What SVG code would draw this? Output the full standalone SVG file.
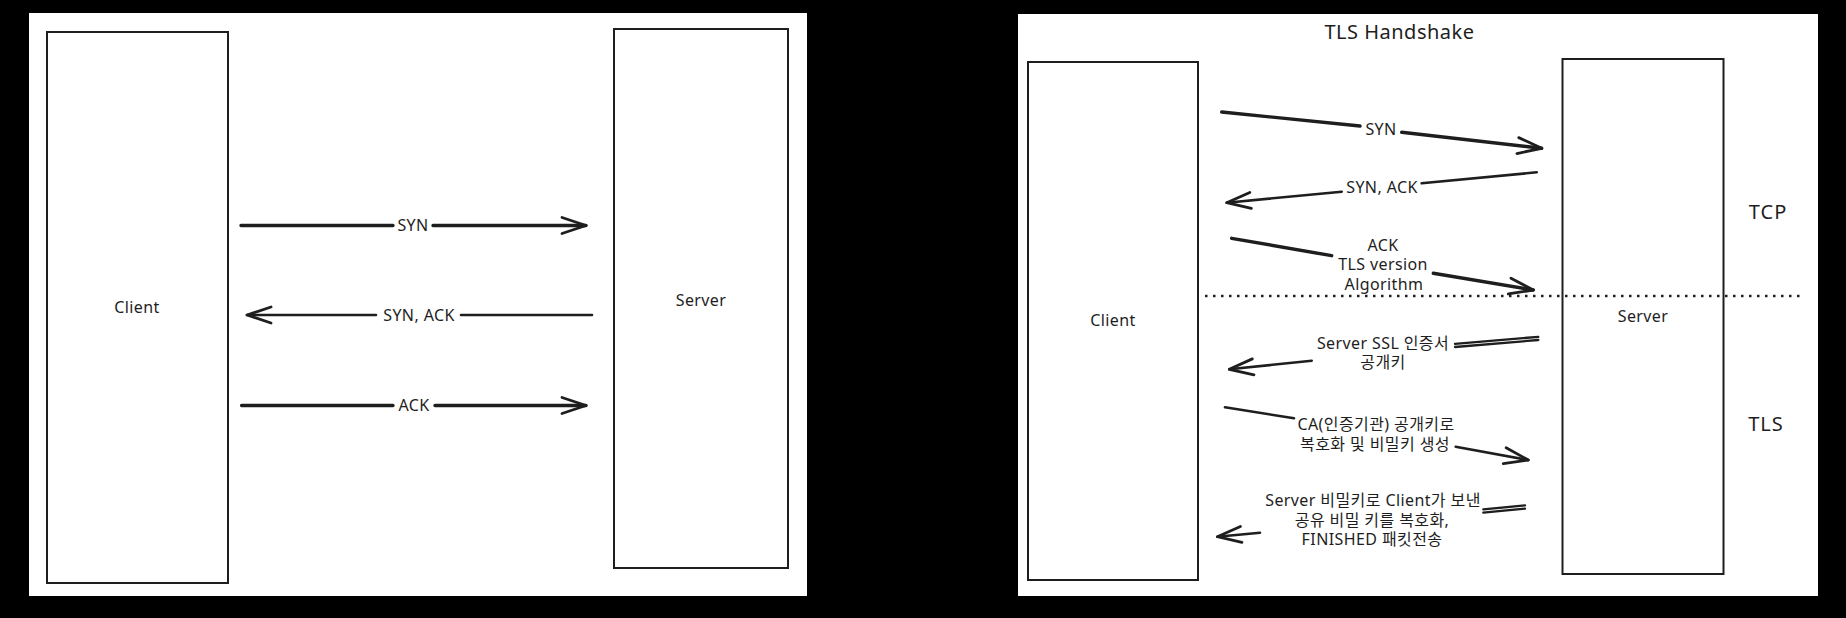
<svg xmlns="http://www.w3.org/2000/svg" width="1846" height="618" viewBox="0 0 1846 618">
<style>
.box{fill:none;stroke:#1e1e1e;stroke-width:2}
.edge{fill:none;stroke:#1e1e1e;stroke-width:2.6;stroke-linecap:round;stroke-linejoin:round}
.thick{stroke-width:3.4}
.dbl{fill:none;stroke:#1e1e1e;stroke-width:2.3;stroke-linecap:round}
.lbl{font-family:"Noto Sans","Noto Sans CJK KR",sans-serif;font-size:16px;letter-spacing:0.4px;fill:#1e1e1e;text-anchor:middle}
.big{font-size:20px;letter-spacing:1px}
.title{font-size:20px;letter-spacing:0.5px}
.dots{fill:none;stroke:#1e1e1e;stroke-width:2.6;stroke-dasharray:2.5 5.5}
</style>
<defs>
<marker id="ah" markerUnits="userSpaceOnUse" markerWidth="40" markerHeight="30" viewBox="-30 -15 40 30" refX="0" refY="0" orient="auto" overflow="visible">
<path d="M-24,-8 L0,0 L-24,8" fill="none" stroke="#1e1e1e" stroke-width="2.8" stroke-linecap="round" stroke-linejoin="round"/>
</marker>
</defs>
<rect x="0" y="0" width="1846" height="618" fill="#000"/>
<rect x="29" y="13" width="778" height="583" fill="#fff"/>
<rect x="1018" y="14" width="800" height="582" fill="#fff"/>

<g id="left-client"><rect class="box" x="47" y="32" width="181" height="551"/><text class="lbl" x="137" y="312.5">Client</text></g>
<g id="left-server"><rect class="box" x="614" y="29" width="174" height="539"/><text class="lbl" x="701" y="305.5">Server</text></g>

<g id="title"><text class="lbl title" x="1399.5" y="39">TLS Handshake</text></g>
<g id="right-client"><rect class="box" x="1028" y="62" width="170" height="518"/><text class="lbl" x="1113" y="325.5">Client</text></g>
<g id="right-server"><rect class="box" x="1562.5" y="59" width="161" height="515"/><text class="lbl" x="1643" y="321.5">Server</text></g>
<g id="tcp-label"><text class="lbl big" x="1768" y="219">TCP</text></g>
<g id="tls-label"><text class="lbl big" x="1766" y="431">TLS</text></g>
<g id="divider"><path class="dots" d="M1205,296 L1801,296"/></g>

<g id="connectors">
<path class="edge thick" d="M241,225.5 L393,225.5 M433,225.5 L586,225.5" marker-end="url(#ah)"/>
<text class="lbl" x="413" y="231">SYN</text>
<path class="edge" d="M592,315 L461,315 M376,315 L247,315" marker-end="url(#ah)"/>
<text class="lbl" x="419" y="320.5">SYN, ACK</text>
<path class="edge thick" d="M241.6,405.5 L393,405.5 M435,405.5 L586,405.5" marker-end="url(#ah)"/>
<text class="lbl" x="414" y="411">ACK</text>

<path class="edge thick" d="M1221.7,112 L1360,126 M1401.7,132.3 L1541.7,148.3" marker-end="url(#ah)"/>
<text class="lbl" x="1381" y="135">SYN</text>
<path class="edge" d="M1536.7,172.3 L1421.7,183.3 M1341.7,191.7 L1226.7,202.7" marker-end="url(#ah)"/>
<text class="lbl" x="1382" y="192.5">SYN, ACK</text>
<path class="edge thick" d="M1231.7,238.3 L1331.7,255.7 M1433.3,273.3 L1533.3,290" marker-end="url(#ah)"/>
<text class="lbl" x="1383" y="250.5">ACK</text>
<text class="lbl" x="1383" y="270">TLS version</text>
<text class="lbl" x="1384" y="289.5">Algorithm</text>

<path class="dbl" d="M1538.3,336.8 L1455,343.8 M1538.3,340 L1455,347"/>
<path class="edge" d="M1311.7,360.7 L1229.3,369.3" marker-end="url(#ah)"/>
<text class="lbl" x="1383" y="348.5">Server SSL 인증서</text>
<text class="lbl" x="1383" y="368">공개키</text>

<path class="edge" d="M1225,407.3 L1294,418.3 M1455.7,446.7 L1528.3,460" marker-end="url(#ah)"/>
<text class="lbl" x="1376" y="430">CA(인증기관) 공개키로</text>
<text class="lbl" x="1375" y="449.5">복호화 및 비밀키 생성</text>

<path class="dbl" d="M1525,505.4 L1483.3,509.4 M1525,508.6 L1483.3,512.6"/>
<path class="edge" d="M1260,532.7 L1217.3,536.7" marker-end="url(#ah)"/>
<text class="lbl" x="1373" y="506">Server 비밀키로 Client가 보낸</text>
<text class="lbl" x="1372" y="525.5">공유 비밀 키를 복호화,</text>
<text class="lbl" x="1372" y="545">FINISHED 패킷전송</text>
</g>
</svg>
